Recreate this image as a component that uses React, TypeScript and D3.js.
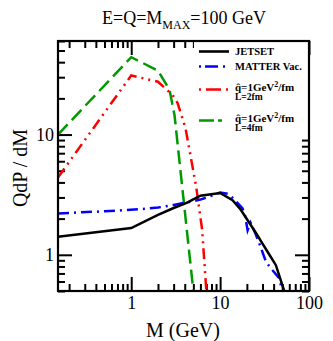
import React from "react";
import * as d3 from "d3";

// values
const jetsetM = [0.15, 1, 2, 3, 4.2, 6, 10, 13.8, 17, 20.4, 25, 30, 35, 42.4, 52.6];
const jetsetV = [1.41, 1.67, 2.15, 2.45, 2.7, 3.1, 3.27, 2.85, 2.38, 1.94, 1.54, 1.24, 1.03, 0.82, 0.5];

const vacM = [0.15, 0.5, 1.2, 2, 3, 4.5, 6, 8, 10, 12.2, 14, 17.9, 19, 20.4, 22, 25, 27.6, 32.8, 37.3, 46.2, 50];
const vacV = [2.21, 2.3, 2.39, 2.47, 2.6, 2.75, 2.88, 3.1, 3.3, 3.22, 2.95, 2.43, 2.15, 1.6, 1.85, 1.5, 1.24, 0.875, 0.77, 0.64, 0.5];

const l2M = [0.15, 1, 2, 2.92, 3.32, 4.08, 5.38, 6.28, 7.0];
const l2V = [4.4, 31, 27.5, 21.3, 18.3, 11.3, 3.68, 1.61, 0.5];

const l4M = [0.15, 1, 2, 2.7, 3.07, 5.0];
const l4V = [10, 44, 34, 23.5, 14.5, 0.5];

const xMajor = [1, 10, 100];
const yMajor = [1, 10];

const W = 333;
const H = 341;
const margin = { top: 41, right: 24, bottom: 50, left: 58 };

const App = () => {
  const svgRef = React.useRef(null);

  React.useEffect(() => {
    drawChart();
  }, []);

  const drawChart = () => {
    const svg = d3.select(svgRef.current);
    svg.selectAll("*").remove();

    const x = d3
      .scaleLog()
      .domain([0.15, 100])
      .range([margin.left, W - margin.right]);
    const y = d3
      .scaleLog()
      .domain([0.5, 60])
      .range([H - margin.bottom, margin.top]);

    const xMinor = x.ticks().filter((t) => !xMajor.includes(t));
    const yMinor = y.ticks().filter((t) => !yMajor.includes(t));

    const font = "Liberation Serif, DejaVu Serif, serif";

    const styleAxis = (g) => {
      g.select(".domain").remove();
      g.selectAll(".tick line").attr("stroke", "#000").attr("stroke-width", 2);
      g.selectAll(".tick text")
        .style("font-family", font)
        .style("font-size", "18px")
        .attr("fill", "#000");
    };

    const bottom = H - margin.bottom;
    const right = W - margin.right;

    // bottom axis
    svg
      .append("g")
      .attr("transform", `translate(0,${bottom})`)
      .call(d3.axisBottom(x).tickValues(xMajor).tickSize(-14).tickPadding(5).tickFormat(d3.format("d")))
      .call(styleAxis);
    svg
      .append("g")
      .attr("transform", `translate(0,${bottom})`)
      .call(d3.axisBottom(x).tickValues(xMinor).tickSize(-7).tickFormat(() => ""))
      .call(styleAxis);
    // top axis
    svg
      .append("g")
      .attr("transform", `translate(0,${margin.top})`)
      .call(d3.axisTop(x).tickValues(xMajor).tickSize(-14).tickFormat(() => ""))
      .call(styleAxis);
    svg
      .append("g")
      .attr("transform", `translate(0,${margin.top})`)
      .call(d3.axisTop(x).tickValues(xMinor).tickSize(-7).tickFormat(() => ""))
      .call(styleAxis);
    // left axis
    svg
      .append("g")
      .attr("transform", `translate(${margin.left},0)`)
      .call(d3.axisLeft(y).tickValues(yMajor).tickSize(-14).tickPadding(4).tickFormat(d3.format("d")))
      .call(styleAxis);
    svg
      .append("g")
      .attr("transform", `translate(${margin.left},0)`)
      .call(d3.axisLeft(y).tickValues(yMinor).tickSize(-7).tickFormat(() => ""))
      .call(styleAxis);
    // right axis
    svg
      .append("g")
      .attr("transform", `translate(${right},0)`)
      .call(d3.axisRight(y).tickValues(yMajor).tickSize(-14).tickFormat(() => ""))
      .call(styleAxis);
    svg
      .append("g")
      .attr("transform", `translate(${right},0)`)
      .call(d3.axisRight(y).tickValues(yMinor).tickSize(-7).tickFormat(() => ""))
      .call(styleAxis);

    svg
      .append("clipPath")
      .attr("id", "plotclip")
      .append("rect")
      .attr("x", margin.left)
      .attr("y", margin.top)
      .attr("width", right - margin.left)
      .attr("height", bottom - margin.top);

    const line = d3
      .line()
      .x((d) => x(d[0]))
      .y((d) => y(d[1]));

    const series = [
      { m: l4M, v: l4V, color: "#009900", dash: "14,6" },
      { m: l2M, v: l2V, color: "#ff0000", dash: "11,5,2,5,2,5" },
      { m: vacM, v: vacV, color: "#0000ff", dash: "11,5,2,5" },
      { m: jetsetM, v: jetsetV, color: "#000000", dash: null },
    ];

    const plot = svg.append("g").attr("clip-path", "url(#plotclip)");
    series.forEach((s) => {
      plot
        .append("path")
        .datum(s.m.map((m, i) => [m, s.v[i]]))
        .attr("fill", "none")
        .attr("stroke", s.color)
        .attr("stroke-width", 2.5)
        .attr("stroke-dasharray", s.dash)
        .attr("d", line);
    });

    // legend
    const lg = svg.append("g");
    lg.append("rect")
      .attr("x", 194)
      .attr("y", margin.top + 1)
      .attr("width", right - 195)
      .attr("height", 95)
      .attr("fill", "#fff");

    const entries = [
      { color: "#000", dash: null, y: 51.5, lines: ["JETSET"] },
      { color: "#0000ff", dash: "2,4,13,5", y: 66.5, lines: ["MATTER Vac."] },
      { color: "#ff0000", dash: "2,5,15,5", y: 89.5, lines: ["q", "L=2fm"] },
      { color: "#009900", dash: "15,4,4,20", y: 120.5, lines: ["q", "L=4fm"] },
    ];
    entries.forEach((e) => {
      lg.append("line")
        .attr("x1", 199)
        .attr("x2", 229)
        .attr("y1", e.y)
        .attr("y2", e.y)
        .attr("stroke", e.color)
        .attr("stroke-width", 2.6)
        .attr("stroke-dasharray", e.dash);
      if (e.lines.length === 1) {
        lg.append("text")
          .attr("x", 235)
          .attr("y", e.y + 3.8)
          .style("font-family", font)
          .style("font-weight", "bold")
          .style("font-size", "10.5px")
          .text(e.lines[0]);
      } else {
        const t = lg
          .append("text")
          .attr("x", 235)
          .attr("y", e.y + 1.5)
          .style("font-family", font)
          .style("font-weight", "bold")
          .style("font-size", "11px");
        t.append("tspan").text("q\u0302=1GeV");
        t.append("tspan").attr("dy", -4.5).style("font-size", "8px").text("2");
        t.append("tspan").attr("dy", 4.5).text("/fm");
        lg.append("text")
          .attr("x", 235)
          .attr("y", e.y + 10.5)
          .style("font-family", font)
          .style("font-weight", "bold")
          .style("font-size", "9.5px")
          .text(e.lines[1]);
      }
    });

    // frame
    svg
      .append("rect")
      .attr("x", margin.left)
      .attr("y", margin.top)
      .attr("width", right - margin.left)
      .attr("height", bottom - margin.top)
      .attr("fill", "none")
      .attr("stroke", "#000")
      .attr("stroke-width", 2.2);

    // title
    const title = svg
      .append("text")
      .attr("x", 184)
      .attr("y", 24)
      .attr("text-anchor", "middle")
      .style("font-family", font)
      .style("font-size", "18px");
    title.append("tspan").text("E=Q=M");
    title.append("tspan").attr("dy", 5).style("font-size", "12px").text("MAX");
    title.append("tspan").attr("dy", -5).text("=100 GeV");

    svg
      .append("text")
      .attr("x", 183)
      .attr("y", 337)
      .attr("text-anchor", "middle")
      .style("font-family", font)
      .style("font-size", "20px")
      .text("M (GeV)");

    svg
      .append("text")
      .attr("transform", "translate(27,168) rotate(-90)")
      .attr("text-anchor", "middle")
      .style("font-family", font)
      .style("font-size", "20px")
      .text("QdP / dM");
  };

  return (
    <svg
      ref={svgRef}
      width={W}
      height={H}
      style={{ position: "absolute", left: 0, top: 0, background: "#fff" }}
    />
  );
};

export default App;
